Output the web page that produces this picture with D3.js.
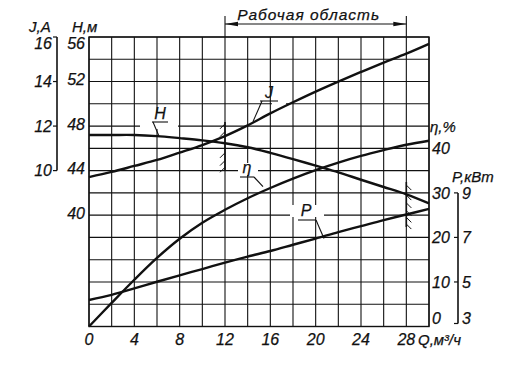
<!DOCTYPE html>
<html><head><meta charset="utf-8">
<script src="https://cdn.jsdelivr.net/npm/d3@7"></script>
<style>
html,body{margin:0;padding:0;background:#fff;}
svg text{font-family:"Liberation Sans",Arial,sans-serif;font-style:italic;fill:#111;stroke:#111;stroke-width:0.25;}
</style></head>
<body><svg id="c" width="507" height="384"></svg>
<script>
// ---- data ----
const Q      = [0,2,4,6,8,10,12,14,16,18,20,22,24,26,28,30];
const headH  = [47.2,47.2,47.2,47.1,46.92,46.72,46.46,46.1,45.6,45.04,44.44,43.85,43.18,42.53,41.87,41.06];
const currentJ = [9.71,9.94,10.21,10.48,10.81,11.15,11.55,12.03,12.57,13.07,13.55,14.0,14.43,14.85,15.25,15.69];
const effEta = [0,5.3,10.5,15.4,19.7,23.3,26.2,28.8,31.1,33.2,35.1,36.8,38.3,39.6,40.8,41.7];
const powerP = [4.19,4.42,4.71,5.01,5.30,5.58,5.87,6.14,6.39,6.67,6.95,7.24,7.51,7.78,8.03,8.28];
const qTicks = [0,4,8,12,16,20,24,28];
const hTicks = [40,44,48,52,56];
const jTicks = [10,12,14,16];
const etaTicks = [0,10,20,30,40];
const pTicks = [3,5,7,9];
const workZone = [12,28];

// ---- scales ----
const L=89,R=429,T=37,B=326.5;
const x = d3.scaleLinear([0,30],[L,R]);
const yH = d3.scaleLinear([30,56],[B,T]);
const yJ = d3.scaleLinear([3,16],[B,T]);
const yE = d3.scaleLinear([0,65],[B,T]);
const yP = d3.scaleLinear([3,16],[B,T]);

const svg = d3.select("#c");
const ink="#111";

// grid
const g = svg.append("g").attr("stroke",ink).attr("stroke-width",1.1);
d3.range(0,31,2).forEach(q=>g.append("line").attr("x1",x(q)).attr("x2",x(q)).attr("y1",T).attr("y2",B));
d3.range(30,57,2).forEach(h=>g.append("line").attr("x1",L).attr("x2",R).attr("y1",yH(h)).attr("y2",yH(h)));
svg.append("rect").attr("x",L).attr("y",T).attr("width",R-L).attr("height",B-T)
  .attr("fill","none").attr("stroke",ink).attr("stroke-width",1.4);

// label gaps (white boxes behind curve labels)
const gaps=[[140,113,38,16],[272,94,14,12],[238,163,20,12],[290,205,34,12]];
gaps.forEach(d=>svg.append("rect").attr("x",d[0]).attr("y",d[1]).attr("width",d[2]).attr("height",d[3]).attr("fill","#fff"));

// curves
const mk=(ys,sc)=>d3.line().x((d,i)=>x(Q[i])).y(d=>sc(d)).curve(d3.curveCatmullRom.alpha(0.5))(ys);
[[headH,yH],[currentJ,yJ],[effEta,yE],[powerP,yP]].forEach(([ys,sc])=>
  svg.append("path").attr("d",mk(ys,sc)).attr("fill","none").attr("stroke",ink).attr("stroke-width",2.4).attr("stroke-linejoin","round"));

// working-zone hatch marks
function hatch(q,h1,h2,side,ticks){
  const xx=x(q);
  svg.append("line").attr("x1",xx).attr("x2",xx).attr("y1",yH(h1)).attr("y2",yH(h2)).attr("stroke",ink).attr("stroke-width",1.6);
  ticks.forEach(h=>{const yy=yH(h);
    svg.append("line").attr("x1",xx).attr("y1",yy).attr("x2",xx+side*5).attr("y2",yy+5).attr("stroke",ink).attr("stroke-width",1);});
}
hatch(workZone[0],48.37,44.06,-1,[48.2,47.5,45.6,44.9,44.3]);
hatch(workZone[1],42.98,38.94,1,[42.7,41.8,41.1,40.4,39.8,39.2]);

// working zone bracket
const ya=24;
workZone.forEach(q=>svg.append("line").attr("x1",x(q)).attr("x2",x(q)).attr("y1",16).attr("y2",T).attr("stroke",ink).attr("stroke-width",1.1));
svg.append("line").attr("x1",x(workZone[0])).attr("x2",x(workZone[1])).attr("y1",ya).attr("y2",ya).attr("stroke",ink).attr("stroke-width",1.1);
const x0=x(workZone[0]), x1=x(workZone[1]);
svg.append("path").attr("d",`M${x0},${ya}L${x0+13},${ya-2.2}L${x0+13},${ya+2.2}Z`).attr("fill",ink);
svg.append("path").attr("d",`M${x1},${ya}L${x1-13},${ya-2.2}L${x1-13},${ya+2.2}Z`).attr("fill",ink);
svg.append("text").attr("x",(x0+x1)/2-7).attr("y",20).attr("text-anchor","middle").attr("font-size",15.5)
  .attr("letter-spacing",1).text("Рабочая область");

// curve labels with leaders
function lab(t,tx,ty,ux1,ux2,uy,lx1,lx2,ly2){
  svg.append("text").attr("x",tx).attr("y",ty).attr("text-anchor","middle").attr("font-size",16).text(t);
  svg.append("line").attr("x1",ux1).attr("x2",ux2).attr("y1",uy).attr("y2",uy).attr("stroke",ink).attr("stroke-width",1.1);
  svg.append("line").attr("x1",lx1).attr("y1",uy).attr("x2",lx2).attr("y2",ly2).attr("stroke",ink).attr("stroke-width",1.1);
}
lab("H",160,119,152,168,122,153,159,yH(headH[3]));
lab("J",269,98,260,278,101,262,253,yJ(12.2));
lab("η",247,173,240,254,177,254,263,yE(31.4));
lab("P",306,216,298,316,220,316,324,yP(6.95));

// x axis labels
svg.selectAll(".qt").data(qTicks).join("text").attr("x",d=>x(d)).attr("y",345)
  .attr("text-anchor","middle").attr("font-size",16).text(d=>d);
svg.append("text").attr("x",418).attr("y",345).attr("font-size",15).text("Q,м³/ч");

// left: J axis
const jx=57;
svg.append("line").attr("x1",jx).attr("x2",jx).attr("y1",yJ(16)).attr("y2",yJ(10)).attr("stroke",ink).attr("stroke-width",1.6);
jTicks.forEach(v=>svg.append("line").attr("x1",jx-4).attr("x2",jx).attr("y1",yJ(v)).attr("y2",yJ(v)).attr("stroke",ink).attr("stroke-width",1.2));
svg.selectAll(".jt").data(jTicks).join("text").attr("x",52).attr("y",d=>yJ(d)+(d===16?6:0)).attr("dy","0.36em")
  .attr("text-anchor","end").attr("font-size",16).text(d=>d);
svg.append("text").attr("x",29).attr("y",32).attr("font-size",15).text("J,A");
// H axis labels
svg.selectAll(".ht").data(hTicks).join("text").attr("x",85).attr("y",d=>yH(d)+(d===56?6:-2)).attr("dy","0.36em")
  .attr("text-anchor","end").attr("font-size",16).text(d=>d);
svg.append("text").attr("x",72).attr("y",32).attr("font-size",15).text("H,м");

// right: eta labels
svg.selectAll(".et").data(etaTicks).join("text").attr("x",432).attr("y",d=>yE(d)+(d===0?-8:0)).attr("dy","0.36em")
  .attr("font-size",16).text(d=>d);
svg.append("text").attr("x",430).attr("y",132).attr("font-size",15).text("η,%");
// P axis
const px=458;
svg.append("line").attr("x1",px).attr("x2",px).attr("y1",yP(9)).attr("y2",yP(3)-3).attr("stroke",ink).attr("stroke-width",1.6);
pTicks.forEach(v=>{const yy=v===3?yP(3)-3:yP(v);svg.append("line").attr("x1",px-4).attr("x2",px).attr("y1",yy).attr("y2",yy).attr("stroke",ink).attr("stroke-width",1.2);});
svg.selectAll(".pt").data(pTicks).join("text").attr("x",462).attr("y",d=>yP(d)+(d===3?-8:0)).attr("dy","0.36em")
  .attr("font-size",16).text(d=>d);
svg.append("text").attr("x",452).attr("y",182).attr("font-size",15).text("P,кВт");
</script></body></html>
